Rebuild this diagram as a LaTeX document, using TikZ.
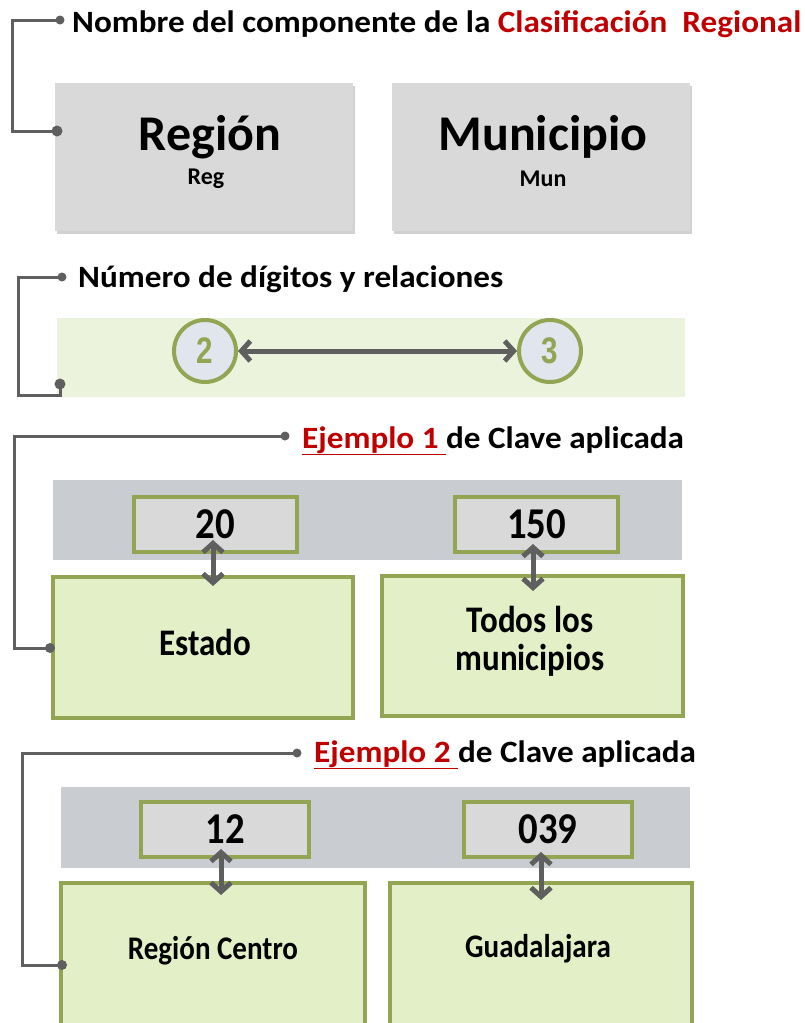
\documentclass[tikz,border=0pt]{standalone}
\usepackage{fontspec}
\setmainfont{Carlito}
\newfontfamily\cfont[FakeStretch=0.88]{Carlito}
\newfontfamily\wfont[FakeStretch=1.07]{Carlito}
\newfontfamily\afont[FakeStretch=0.8]{Liberation Sans}
\usetikzlibrary{arrows.meta,shadows}
\definecolor{clLine}{HTML}{5F5F5F}
\definecolor{clRed}{HTML}{C00000}
\definecolor{clOlive}{HTML}{93A553}
\definecolor{clBox}{HTML}{D9D9D9}
\definecolor{clBand}{HTML}{C9CCD0}
\definecolor{clGreen}{HTML}{E2EFC7}
\definecolor{clLight}{HTML}{EBF3DD}
\definecolor{clCirc}{HTML}{E1E6EE}
\begin{document}
\begin{tikzpicture}[x=1pt,y=-1pt,
  conn/.style={draw=clLine,line width=3pt},
  ttl/.style={anchor=base west,font=\wfont\bfseries\fontsize{31}{33}\selectfont,inner sep=0pt},
  compbox/.style={fill=clBox,draw=none,minimum width=298pt,minimum height=148pt,inner sep=0pt,
     drop shadow={shadow xshift=1.5pt,shadow yshift=-3pt,opacity=0.3,fill=black!60}},
  band/.style={draw=none,inner sep=0pt},
  keybox/.style={fill=clBox,draw=clOlive,line width=4pt,minimum width=163pt,minimum height=55pt,inner sep=0pt,
     font=\cfont\bfseries\fontsize{44}{44}\selectfont},
  catbox/.style={fill=clGreen,draw=clOlive,line width=4pt,inner sep=0pt},
  digit/.style={circle,fill=clCirc,draw=clOlive,line width=4pt,minimum size=62pt,inner sep=0pt,
     text=clOlive,font=\afont\bfseries\fontsize{37}{37}\selectfont},
  rel/.style={draw=clLine,line width=5pt,{Straight Barb[length=9pt,width=20pt]}-{Straight Barb[length=9pt,width=20pt]}},
  vrel/.style={draw=clLine,line width=5pt,{Straight Barb[length=9pt,width=20pt]}-{Straight Barb[length=9pt,width=20pt]}},
  lbl/.style={font=\cfont\bfseries\fontsize{37.5}{38}\selectfont,align=center,inner sep=0pt}
]
\useasboundingbox (0,0) rectangle (805,1023);

% ---------- Section 1 ----------
\coordinate (d1a) at (60,20);
\coordinate (d1b) at (57,131);
\node[ttl] (t1) at (72,32) {Nombre del componente de la \textcolor{clRed}{Clasificación\ \ Regional}};
\node[compbox] (reg) at (204,157) {};
\node[compbox] (mun) at (541,157) {};
\node[font=\bfseries\fontsize{50}{50}\selectfont,inner sep=0pt] (regT) at (210,137) {Región};
\node[font=\bfseries\fontsize{24}{24}\selectfont,inner sep=0pt] (regS) at (206,179) {Reg};
\node[font=\bfseries\fontsize{50}{50}\selectfont,inner sep=0pt] (munT) at (543,137) {Municipio};
\node[font=\bfseries\fontsize{24}{24}\selectfont,inner sep=0pt] (munS) at (543,179) {Mun};
\draw[conn] (d1a) -- ++(-48,0) |- (d1b);
\fill[clLine] (d1a) circle (4.5) (d1b) circle (5.5);

% ---------- Section 2 ----------
\coordinate (d2a) at (62,277);
\coordinate (d2b) at (60,384);
\node[ttl] (t2) at (78,287) {Número de dígitos y relaciones};
\node[band,fill=clLight,minimum width=628pt,minimum height=79pt] (b2) at (371,357.5) {};
\node[digit] (c2) at (205,351) {2};
\node[digit] (c3) at (550,351) {3};
\draw[rel] (c2) -- (c3);
\draw[conn] (d2a) -- ++(-44,0) |- ++(42,118) -- (d2b);
\fill[clLine] (d2a) circle (4.5) (d2b) circle (5.5);

% ---------- Section 3 ----------
\coordinate (d3a) at (285,436);
\coordinate (d3b) at (50,648);
\node[ttl] (t3) at (302,448) {\textcolor{clRed}{\underline{Ejemplo 1\ }}de Clave aplicada};
\node[band,fill=clBand,minimum width=629pt,minimum height=80pt] (b3) at (367.5,520) {};
\node[keybox] (k20) at (215.5,524) {20};
\node[keybox] (k150) at (536.5,524) {150};
\node[catbox,minimum width=300pt,minimum height=141pt] (est) at (203,647.5) {};
\node[catbox,minimum width=301pt,minimum height=140pt] (tod) at (532.5,646) {};
\node[lbl] (estT) at (205,642) {Estado};
\node[lbl] (todT) at (530,641) {Todos los\\municipios};
\draw[vrel] ([xshift=-2.5pt,yshift=13.5pt]k20.south) -- ([xshift=10pt,yshift=-11pt]est.north);
\draw[vrel] ([xshift=-3.5pt,yshift=9.5pt]k150.south) -- ([xshift=0.5pt,yshift=-17pt]tod.north);
\draw[conn] (d3a) -- ++(-271,0) |- (d3b);
\fill[clLine] (d3a) circle (4.5) (d3b) circle (5);

% ---------- Section 4 ----------
\coordinate (d4a) at (297,753);
\coordinate (d4b) at (62,965);
\node[ttl] (t4) at (314,762) {\textcolor{clRed}{\underline{Ejemplo 2\ }}de Clave aplicada};
\node[band,fill=clBand,minimum width=629pt,minimum height=81pt] (b4) at (375.5,827.5) {};
\node[keybox,minimum width=168pt] (k12) at (225,829.5) {12};
\node[keybox,minimum width=168pt] (k039) at (548,829.5) {039};
\node[catbox,minimum width=304pt,minimum height=160pt] (rc) at (213,963) {};
\node[catbox,minimum width=302pt,minimum height=160pt] (gu) at (541,963) {};
\node[lbl,font=\cfont\bfseries\fontsize{33}{36}\selectfont] (rcT) at (213,951) {Región Centro};
\node[lbl,font=\cfont\bfseries\fontsize{33}{36}\selectfont] (guT) at (538,949) {Guadalajara};
\draw[vrel] ([xshift=-4pt,yshift=10pt]k12.south) -- ([xshift=8pt,yshift=-14pt]rc.north);
\draw[vrel] ([xshift=-7pt,yshift=7pt]k039.south) -- ([xshift=0pt,yshift=-19pt]gu.north);
\draw[conn] (d4a) -- ++(-275,0) |- (d4b);
\fill[clLine] (d4a) circle (4.5) (d4b) circle (5);
\end{tikzpicture}
\end{document}
